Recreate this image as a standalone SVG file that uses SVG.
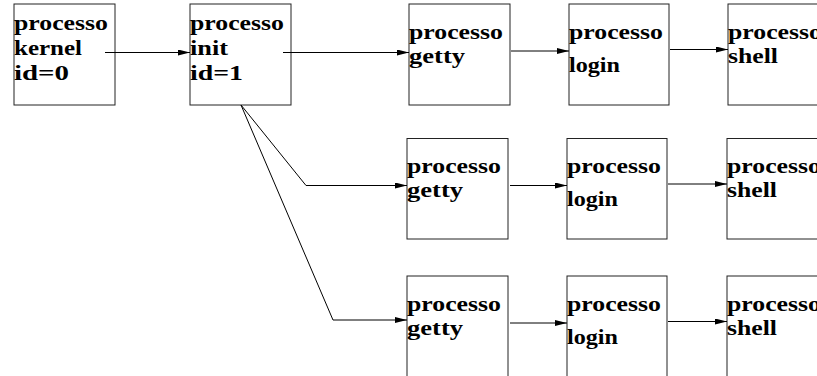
<svg xmlns="http://www.w3.org/2000/svg" width="817" height="376" viewBox="0 0 817 376">
  <style>
    .box { fill: #fff; stroke: #222; stroke-width: 1; }
    .lbl { font-family: "Liberation Serif", "Times New Roman", serif; font-weight: bold; font-size: 21px; fill: #000; }
    .conn { fill: none; stroke: #000; stroke-width: 1; marker-end: url(#arrow); }
  </style>
  <defs>
    <marker id="arrow" markerUnits="userSpaceOnUse" markerWidth="13" markerHeight="7" refX="12" refY="3" orient="auto">
      <path d="M0,0 L12,3 L0,6 Z" fill="#000"/>
    </marker>
  </defs>
  <rect width="817" height="376" fill="#fff"/>

  <!-- processes -->
  <g id="kernel">
    <rect class="box" x="14" y="4" width="101" height="101"/>
    <text class="lbl" x="14" y="30" textLength="94" lengthAdjust="spacingAndGlyphs">processo</text>
    <text class="lbl" x="14" y="55" textLength="68" lengthAdjust="spacingAndGlyphs">kernel</text>
    <text class="lbl" x="14" y="80" textLength="55" lengthAdjust="spacingAndGlyphs">id=0</text>
  </g>
  <g id="init">
    <rect class="box" x="190" y="4" width="101" height="101"/>
    <text class="lbl" x="190" y="30" textLength="94" lengthAdjust="spacingAndGlyphs">processo</text>
    <text class="lbl" x="190" y="55" textLength="38" lengthAdjust="spacingAndGlyphs">init</text>
    <text class="lbl" x="190" y="80" textLength="53" lengthAdjust="spacingAndGlyphs">id=1</text>
  </g>

  <g id="getty1">
    <rect class="box" x="409" y="4" width="101" height="101"/>
    <text class="lbl" x="409" y="39" textLength="94" lengthAdjust="spacingAndGlyphs">processo</text>
    <text class="lbl" x="409" y="63" textLength="56" lengthAdjust="spacingAndGlyphs">getty</text>
  </g>
  <g id="login1">
    <rect class="box" x="569" y="4" width="100" height="101"/>
    <text class="lbl" x="569" y="39" textLength="94" lengthAdjust="spacingAndGlyphs">processo</text>
    <text class="lbl" x="569" y="72" textLength="51" lengthAdjust="spacingAndGlyphs">login</text>
  </g>
  <g id="shell1">
    <rect class="box" x="728" y="4" width="101" height="101"/>
    <text class="lbl" x="728" y="39" textLength="94" lengthAdjust="spacingAndGlyphs">processo</text>
    <text class="lbl" x="728" y="63" textLength="50" lengthAdjust="spacingAndGlyphs">shell</text>
  </g>

  <g id="getty2">
    <rect class="box" x="407" y="138.5" width="101" height="100.5"/>
    <text class="lbl" x="407" y="173" textLength="94" lengthAdjust="spacingAndGlyphs">processo</text>
    <text class="lbl" x="407" y="197" textLength="56" lengthAdjust="spacingAndGlyphs">getty</text>
  </g>
  <g id="login2">
    <rect class="box" x="567" y="138.5" width="100" height="100.5"/>
    <text class="lbl" x="567" y="173" textLength="94" lengthAdjust="spacingAndGlyphs">processo</text>
    <text class="lbl" x="567" y="206" textLength="51" lengthAdjust="spacingAndGlyphs">login</text>
  </g>
  <g id="shell2">
    <rect class="box" x="727" y="138.5" width="101" height="100.5"/>
    <text class="lbl" x="727" y="173" textLength="94" lengthAdjust="spacingAndGlyphs">processo</text>
    <text class="lbl" x="727" y="197" textLength="50" lengthAdjust="spacingAndGlyphs">shell</text>
  </g>

  <g id="getty3">
    <rect class="box" x="407" y="276" width="101" height="101"/>
    <text class="lbl" x="407" y="311" textLength="94" lengthAdjust="spacingAndGlyphs">processo</text>
    <text class="lbl" x="407" y="335" textLength="56" lengthAdjust="spacingAndGlyphs">getty</text>
  </g>
  <g id="login3">
    <rect class="box" x="567" y="276" width="100" height="101"/>
    <text class="lbl" x="567" y="311" textLength="94" lengthAdjust="spacingAndGlyphs">processo</text>
    <text class="lbl" x="567" y="344" textLength="51" lengthAdjust="spacingAndGlyphs">login</text>
  </g>
  <g id="shell3">
    <rect class="box" x="727" y="276" width="101" height="101"/>
    <text class="lbl" x="727" y="311" textLength="94" lengthAdjust="spacingAndGlyphs">processo</text>
    <text class="lbl" x="727" y="335" textLength="50" lengthAdjust="spacingAndGlyphs">shell</text>
  </g>

  <!-- connectors -->
  <g id="connectors">
    <path class="conn" d="M105,52.5 L190,52.5"/>
    <path class="conn" d="M283,52.5 L409,52.5"/>
    <path class="conn" d="M511,51 L569,51"/>
    <path class="conn" d="M670,49.5 L728,49.5"/>
    <path class="conn" d="M241,105 L306,185.5 L407,185.5"/>
    <path class="conn" d="M241,105 L333,320 L407,320"/>
    <path class="conn" d="M510,185.5 L567,185.5"/>
    <path class="conn" d="M668,184 L727,184"/>
    <path class="conn" d="M510,323 L567,323"/>
    <path class="conn" d="M668,321.5 L727,321.5"/>
  </g>
</svg>
